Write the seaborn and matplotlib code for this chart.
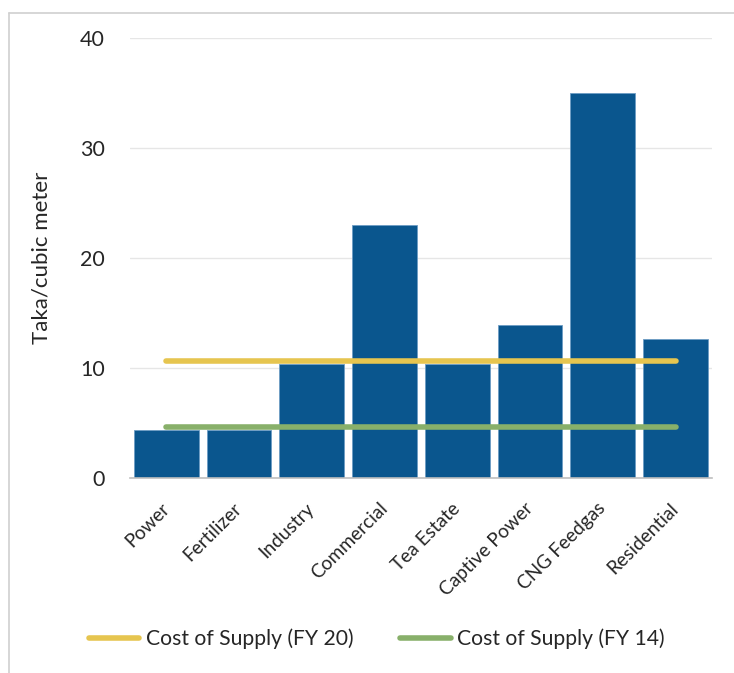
import pandas as pd
import matplotlib.pyplot as plt
import seaborn as sns
from matplotlib.lines import Line2D

# chart values
categories = ['Power', 'Fertilizer', 'Industry', 'Commercial', 'Tea Estate',
              'Captive Power', 'CNG Feedgas', 'Residential']
tariff = [4.4, 4.4, 10.4, 23.0, 10.4, 13.9, 35.0, 12.6]
cost_fy20 = [10.6] * len(categories)
cost_fy14 = [4.6] * len(categories)

df = pd.DataFrame({'sector': categories, 'tariff': tariff,
                   'fy20': cost_fy20, 'fy14': cost_fy14})

sns.set_style('white')
plt.rcParams['font.family'] = ['Lato', 'DejaVu Sans']

fig = plt.figure(figsize=(7.34, 6.73), dpi=100)
ax = fig.add_axes([0.177, 0.2898, 0.793, 0.6537])

sns.barplot(data=df, x='sector', y='tariff', color='#0A568E', saturation=1,
            width=0.89, edgecolor='#6d9cc4', linewidth=0.6, ax=ax, zorder=2)
sns.lineplot(data=df, x='sector', y='fy20', color='#E6C54F', linewidth=4,
             solid_capstyle='round', ax=ax, zorder=3)
sns.lineplot(data=df, x='sector', y='fy14', color='#88B06A', linewidth=4,
             solid_capstyle='round', ax=ax, zorder=3)

ax.set_xlim(-0.5, 7.5)
ax.set_ylim(0, 40)
ax.set_yticks([0, 10, 20, 30, 40])
ax.yaxis.grid(True, color='#e6e6e6', linewidth=1)
ax.set_axisbelow(True)
for s in ['left', 'right', 'top']:
    ax.spines[s].set_visible(False)
ax.spines['bottom'].set_color('#bfbfbf')
ax.spines['bottom'].set_linewidth(1.2)
ax.tick_params(axis='y', length=0, pad=18, labelsize=15.5)
ax.tick_params(axis='x', length=0, pad=20)
ax.set_xticks(range(len(categories)))
ax.set_xticklabels(categories, rotation=45, ha='right', va='center',
                   rotation_mode='anchor', fontsize=13.8)
ax.set_xlabel('')
ax.set_ylabel('')
fig.text(42 / 734, 1 - 257.5 / 673, 'Taka/cubic meter', rotation=90,
         ha='center', va='center', fontsize=16)

handles = [Line2D([], [], color='#E6C54F', linewidth=4, solid_capstyle='round'),
           Line2D([], [], color='#88B06A', linewidth=4, solid_capstyle='round')]
fig.legend(handles, ['Cost of Supply (FY 20)', 'Cost of Supply (FY 14)'],
           loc='center', bbox_to_anchor=(0.514, 0.0505), ncol=2, frameon=False,
           handlelength=2.37, handletextpad=0.33, columnspacing=2.2,
           prop={'size': 15.2})

# outer frame lines of the chart area
fig.add_artist(Line2D([0.0123, 0.0123], [0, 0.981], color='#d0d0d0', linewidth=1.2))
fig.add_artist(Line2D([0.0123, 1.0], [0.981, 0.981], color='#d0d0d0', linewidth=1.2))

fig.savefig('out.png', dpi=100)
